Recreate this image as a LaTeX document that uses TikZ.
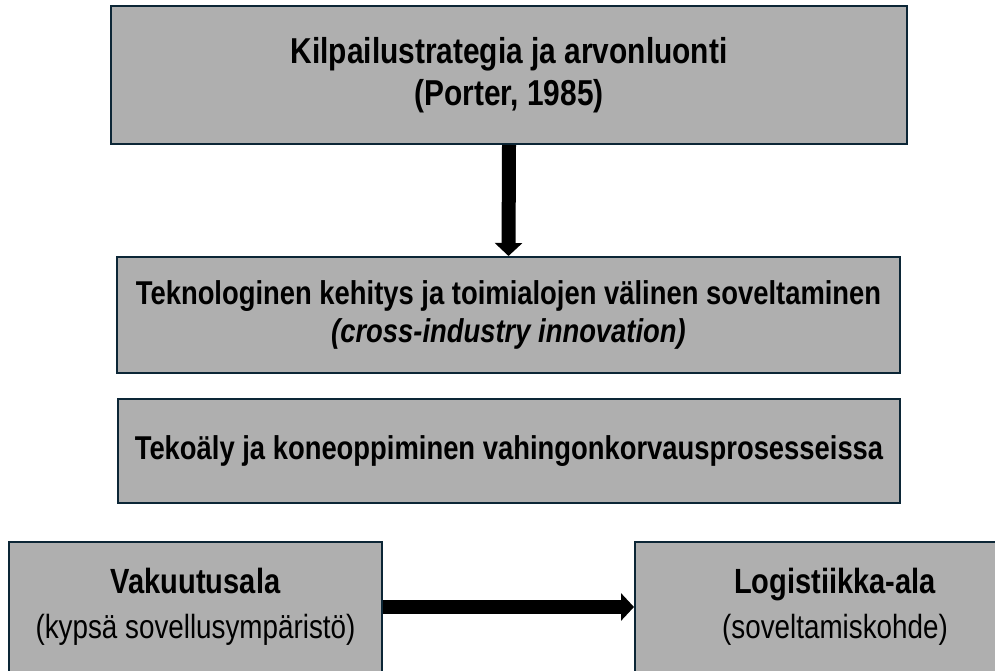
\documentclass[tikz,border=0pt]{standalone}
\usepackage{fontspec}
\setmainfont{Liberation Sans}[FakeStretch=0.83]
\usetikzlibrary{arrows.meta}
\definecolor{boxfill}{HTML}{AFAFAF}
\definecolor{boxline}{HTML}{0C2636}
\tikzset{
  x=1pt,y=1pt,
  greybox/.style={draw=boxline, fill=boxfill, line width=2pt, rectangle, inner sep=0pt, align=center, text=black},
  bigarrow/.style={line width=14pt, draw=black, -{Triangle[width=27pt,length=13pt]}},
}
\begin{document}
\begin{tikzpicture}
\useasboundingbox (0,0) rectangle (995,671);
\clip (0,0) rectangle (995,671);
\node[greybox, minimum width=796pt, minimum height=138pt, font=\bfseries\fontsize{36}{42}\selectfont] (top) at (509,596)
  {Kilpailustrategia ja arvonluonti\\(Porter, 1985)};
\node[greybox, minimum width=783pt, minimum height=116pt, font=\bfseries\fontsize{33}{38}\selectfont] (mid) at (508.5,356)
  {Teknologinen kehitys ja toimialojen välinen soveltaminen\\\textit{(cross-industry innovation)}};
\node[greybox, minimum width=782pt, minimum height=104pt, font=\bfseries\fontsize{33}{38}\selectfont] (ai) at (509,220)
  {Tekoäly ja koneoppiminen vahingonkorvausprosesseissa};
\node[greybox, minimum width=373pt, minimum height=130pt, font=\fontsize{33.5}{45}\selectfont] (ins) at (195.5,64)
  {{\bfseries\fontsize{35}{45}\selectfont Vakuutusala}\\(kypsä sovellusympäristö)};
\node[greybox, minimum width=400pt, minimum height=130pt, font=\fontsize{33.5}{45}\selectfont] (log) at (835,64)
  {{\bfseries\fontsize{35}{45}\selectfont Logistiikka-ala}\\(soveltamiskohde)};
\draw[bigarrow] (top.south) -- (mid.north);
\draw[bigarrow] (ins.east) -- (log.west);
\end{tikzpicture}
\end{document}
